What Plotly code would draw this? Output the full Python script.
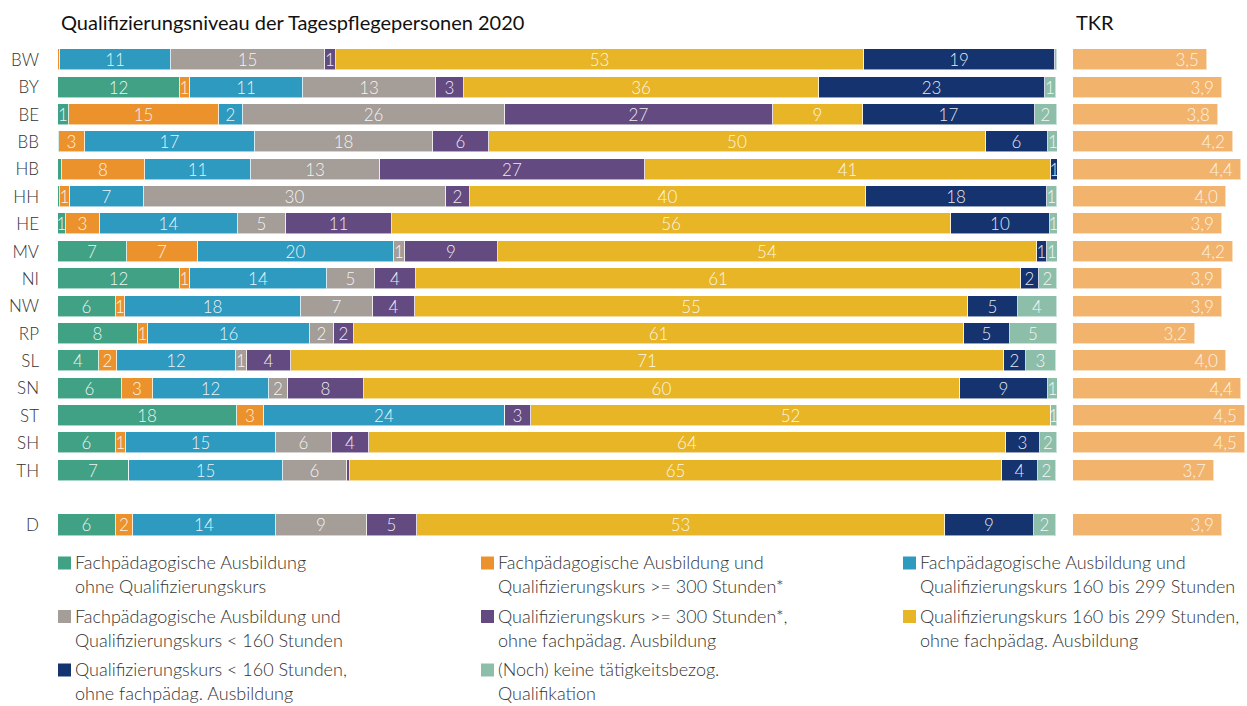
import plotly.graph_objects as go

# Federal states (top to bottom) and the national total
states = ["BW", "BY", "BE", "BB", "HB", "HH", "HE", "MV", "NI", "NW",
          "RP", "SL", "SN", "ST", "SH", "TH", "D"]
row_pos = list(range(16)) + [17]

# Shares in percent per qualification level
fp_ohne = [0.0, 12.2, 1.1, 0.1, 0.4, 0.2, 0.8, 6.9, 12.2, 5.8, 8.0, 4.1, 6.4, 17.9, 5.8, 7.1, 5.8]
fp_300 = [0.2, 1.0, 15.0, 2.6, 8.3, 1.0, 3.4, 7.1, 1.0, 0.9, 1.0, 1.8, 3.1, 2.7, 1.0, 0.0, 1.7]
fp_160 = [11.1, 11.3, 2.4, 17.0, 10.6, 7.4, 13.8, 19.6, 13.7, 17.6, 16.2, 11.9, 11.6, 24.1, 15.0, 15.4, 14.3]
fp_lt160 = [15.4, 13.3, 26.2, 17.8, 12.9, 30.2, 4.8, 1.1, 4.8, 7.2, 2.4, 1.1, 1.9, 0.0, 5.6, 6.4, 9.1]
qk_300 = [1.1, 2.8, 26.9, 5.6, 26.6, 2.4, 10.6, 9.3, 4.1, 4.2, 2.0, 4.4, 7.6, 2.6, 3.7, 0.3, 5.0]
qk_160 = [52.9, 35.6, 9.0, 49.8, 40.6, 39.7, 56.0, 54.0, 60.6, 55.4, 61.1, 71.4, 59.7, 52.1, 63.8, 65.3, 52.9]
qk_lt160 = [19.1, 22.6, 17.2, 6.2, 0.8, 18.1, 9.9, 1.0, 1.8, 5.0, 4.6, 2.2, 8.8, 0.0, 3.4, 3.6, 8.9]
keine = [0.2, 1.1, 2.2, 1.1, 0.0, 1.0, 0.8, 1.1, 1.8, 3.9, 4.7, 3.0, 1.0, 0.6, 1.7, 1.8, 2.2]

# Children per day care person (TKR)
tkr = [3.5, 3.9, 3.8, 4.2, 4.4, 4.0, 3.9, 4.2, 3.9, 3.9, 3.2, 4.0, 4.4, 4.5, 4.5, 3.7, 3.9]

series_names = [
    ["Fachpädagogische Ausbildung", "ohne Qualifizierungskurs"],
    ["Fachpädagogische Ausbildung und", "Qualifizierungskurs >= 300 Stunden*"],
    ["Fachpädagogische Ausbildung und", "Qualifizierungskurs 160 bis 299 Stunden"],
    ["Fachpädagogische Ausbildung und", "Qualifizierungskurs < 160 Stunden"],
    ["Qualifizierungskurs >= 300 Stunden*,", "ohne fachpädag. Ausbildung"],
    ["Qualifizierungskurs 160 bis 299 Stunden,", "ohne fachpädag. Ausbildung"],
    ["Qualifizierungskurs < 160 Stunden,", "ohne fachpädag. Ausbildung"],
    ["(Noch) keine tätigkeitsbezog.", "Qualifikation"],
]
series_values = [fp_ohne, fp_300, fp_160, fp_lt160, qk_300, qk_160, qk_lt160, keine]
series_colors = ["#41A185", "#EC922C", "#2E9AC0", "#A49D98",
                 "#634B82", "#E8B527", "#15336E", "#8DBEA9"]
tkr_color = "#F2B46D"

title_text = "Qualifizierungsniveau der Tagespflegepersonen 2020"
tkr_title = "TKR"

W, H = 1247, 706
FONT = "Lato"
LIGHT = 300


def px_x(v):
    return v / W


def px_y(v):
    return 1 - v / H


def seg_label(v):
    return str(int(v + 0.5)) if v >= 0.5 else ""


fig = go.Figure()

for names, vals, col in zip(series_names, series_values, series_colors):
    fig.add_trace(go.Bar(
        orientation="h",
        y=row_pos,
        x=vals,
        name=" ".join(names),
        marker=dict(color=col, line=dict(color="rgba(255,255,255,0.55)", width=1)),
        width=0.77,
        text=[seg_label(v) for v in vals],
        textposition="inside",
        insidetextanchor="middle",
        textangle=0,
        constraintext="none",
        textfont=dict(family=FONT, size=17, color="rgba(255,255,255,0.9)", weight=LIGHT),
        hoverinfo="skip",
        showlegend=False,
        xaxis="x",
        yaxis="y",
    ))

fig.add_trace(go.Bar(
    orientation="h",
    y=row_pos,
    x=tkr,
    name="TKR",
    marker=dict(color=tkr_color, line=dict(color="rgba(255,255,255,0.55)", width=1)),
    width=0.77,
    text=[f"{v:.1f}".replace(".", ",") + "\u00a0" for v in tkr],
    textposition="inside",
    insidetextanchor="end",
    textangle=0,
    constraintext="none",
    textfont=dict(family=FONT, size=17, color="rgba(255,255,255,0.85)", weight=LIGHT),
    hoverinfo="skip",
    showlegend=False,
    xaxis="x2",
    yaxis="y",
))

plot_top, plot_bottom = 46.3, 539.0

fig.update_layout(
    template="none",
    width=W,
    height=H,
    margin=dict(l=0, r=0, t=0, b=0),
    paper_bgcolor="white",
    plot_bgcolor="white",
    barmode="stack",
    bargap=0,
    separators=",.",
    font=dict(family=FONT, color="#333333"),
    xaxis=dict(domain=[px_x(58), px_x(1057)], range=[0, 100], visible=False,
               fixedrange=True, anchor="y"),
    xaxis2=dict(domain=[px_x(1073), 1.0], range=[0, 4.555], visible=False,
                fixedrange=True, anchor="y"),
    yaxis=dict(domain=[px_y(plot_bottom), px_y(plot_top)], range=[17.5, -0.5],
               tickmode="array", tickvals=row_pos, ticktext=states,
               showgrid=False, zeroline=False, showline=False, ticks="",
               ticklabelstandoff=18, automargin=False,
               tickfont=dict(family=FONT, size=17, color="#333333", weight=LIGHT),
               anchor="x"),
)

annotations = [
    dict(text=title_text, x=px_x(59), y=px_y(22), xref="paper", yref="paper",
         xanchor="left", yanchor="middle", showarrow=False,
         font=dict(family=FONT, size=20, color="#111111")),
    dict(text=tkr_title, x=px_x(1074), y=px_y(22), xref="paper", yref="paper",
         xanchor="left", yanchor="middle", showarrow=False,
         font=dict(family=FONT, size=20, color="#111111")),
]

shapes = []
col_x = [58, 481, 903]
row_y = [563, 616.5, 670]
for i, (names, col) in enumerate(zip(series_names, series_colors)):
    cx = col_x[i % 3]
    ry = row_y[i // 3]
    shapes.append(dict(type="rect", xref="paper", yref="paper",
                       x0=px_x(cx), x1=px_x(cx + 13), y0=px_y(ry - 6.5), y1=px_y(ry + 6.5),
                       fillcolor=col, line=dict(width=0)))
    for j, line in enumerate(names):
        annotations.append(dict(
            text=line, x=px_x(cx + 15), y=px_y(ry - 1 + 24 * j), xref="paper", yref="paper",
            xanchor="left", yanchor="middle", showarrow=False,
            font=dict(family=FONT, size=18, color="#333333", weight=LIGHT)))

fig.update_layout(annotations=annotations, shapes=shapes)

fig.write_html("out.html")
